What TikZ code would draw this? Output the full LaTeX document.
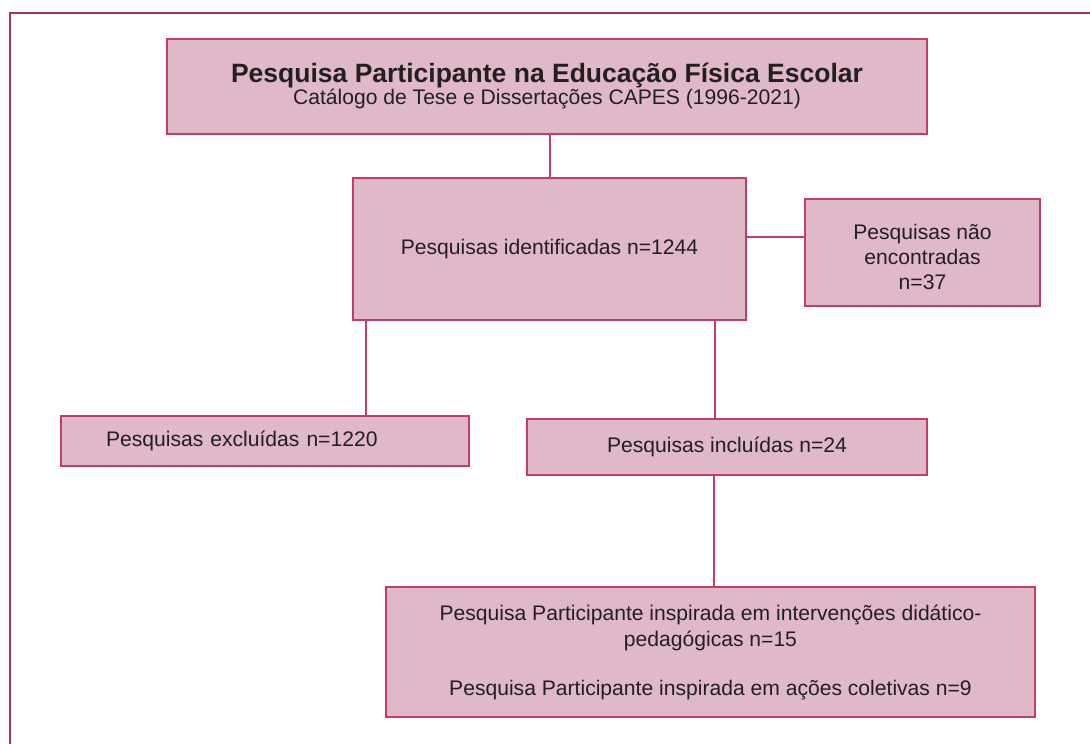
\documentclass[tikz,border=0pt]{standalone}
\usepackage{fontspec}
\setmainfont{Liberation Sans}
\usetikzlibrary{calc}
\definecolor{boxfill}{RGB}{223,184,201}
\definecolor{boxline}{RGB}{196,60,104}
\definecolor{framecol}{RGB}{165,48,92}
\definecolor{txtcol}{RGB}{35,31,32}
\begin{document}
\setlength{\lineskiplimit}{-100pt}
\begin{tikzpicture}[x=1pt,y=-1pt,
  box/.style={draw=boxline, fill=boxfill, line width=2pt, anchor=north west,
    inner sep=0pt, align=center, text=txtcol,
    font=\fontsize{21.1}{25}\selectfont},
  link/.style={draw=boxline, line width=2pt},
  frame/.style={draw=framecol, line width=2.5pt}]
\useasboundingbox (0,0) rectangle (1090,744);
\draw[frame] (10,744) -- (10,13) -- (1090,13);

\node[box, minimum width=760, minimum height=95,
  font=\fontsize{21.1}{22}\selectfont] (top) at (166,38)
  {{\bfseries\fontsize{26.5}{22}\selectfont Pesquisa Participante na Educação Física Escolar}\\Catálogo de Tese e Dissertações CAPES (1996-2021)};
\node[box, minimum width=393, minimum height=142] (id) at (352,177) {Pesquisas identificadas n=1244};
\node[box, minimum width=235, minimum height=107] (nf) at (804,198) {\rule{0pt}{25pt}Pesquisas não\\encontradas\\n=37};
\node[box, align=left, text width=318, inner xsep=45, minimum height=50] (ex) at (60,415) {Pesquisas excluídas n=1220};
\node[box, minimum width=400, minimum height=56] (inc) at (526,418) {Pesquisas incluídas n=24};
\node[box, minimum width=649, minimum height=130,
  font=\fontsize{21.1}{26}\selectfont] (pp) at (385,586)
  {Pesquisa Participante inspirada em intervenções didático-\\pedagógicas n=15\\[23pt]Pesquisa Participante inspirada em ações coletivas n=9};

\draw[link] (id.north) -- (id.north |- top.south);
\coordinate (j) at ($(nf.north west)!0.36!(nf.south west)$);
\draw[link] (j) -- (j -| id.east);
\coordinate (a) at ([xshift=14]id.south west);
\draw[link] (a) -- (a |- ex.north);
\coordinate (b) at ([xshift=-32]id.south east);
\draw[link] (b) -- (b |- inc.north);
\coordinate (c) at ([xshift=-13]inc.south);
\draw[link] (c) -- (c |- pp.north);
\end{tikzpicture}
\end{document}
